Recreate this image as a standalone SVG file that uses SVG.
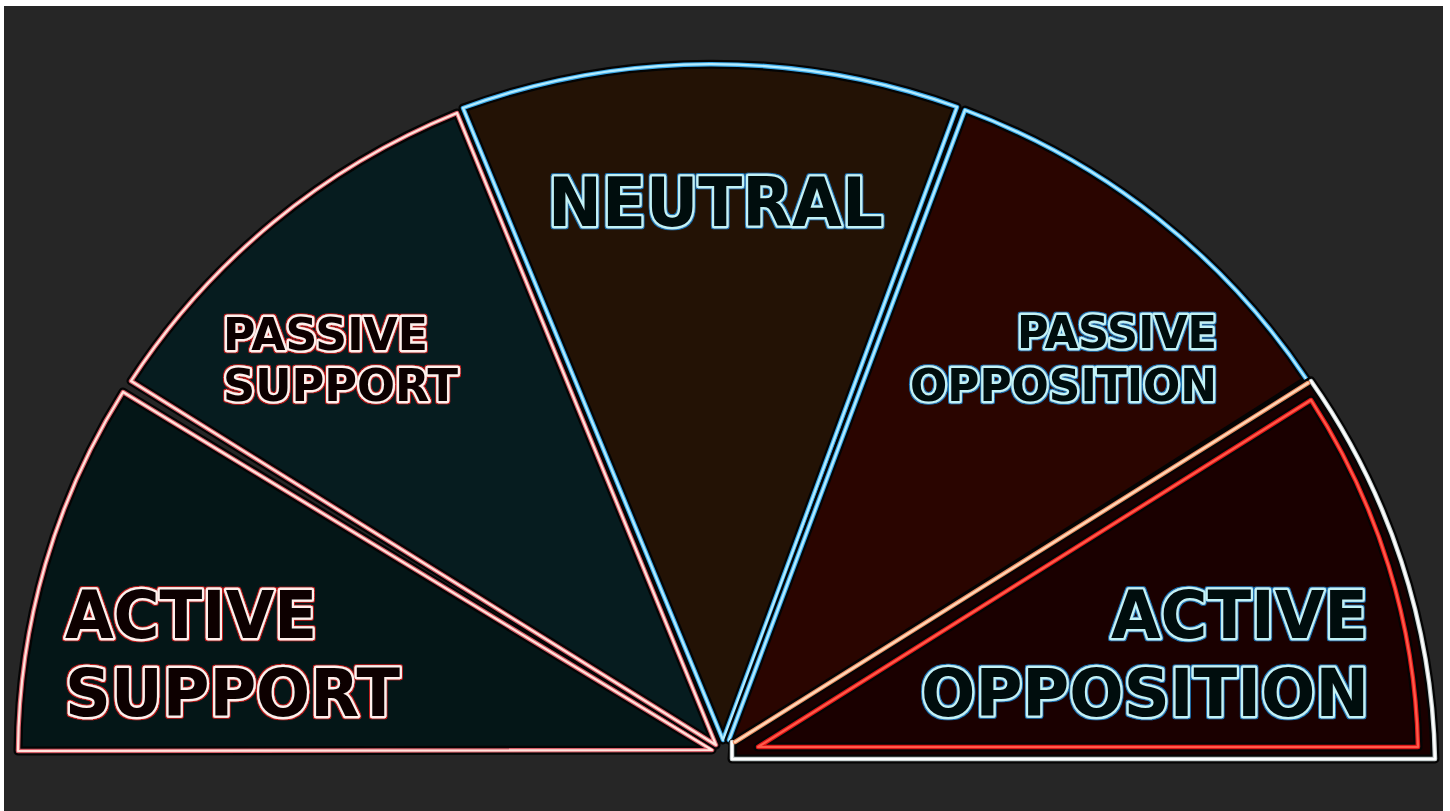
<svg xmlns="http://www.w3.org/2000/svg" width="1450" height="811" viewBox="0 0 1450 811">
<defs>
  <filter id="haloRed" x="-10%" y="-30%" width="120%" height="160%">
    <feMorphology in="SourceAlpha" operator="dilate" radius="1.2" result="d"/>
    <feFlood flood-color="#c01c1c"/>
    <feComposite in2="d" operator="in" result="h"/>
    <feMerge><feMergeNode in="h"/><feMergeNode in="SourceGraphic"/></feMerge>
  </filter>
  <filter id="haloBlue" x="-10%" y="-30%" width="120%" height="160%">
    <feMorphology in="SourceAlpha" operator="dilate" radius="1.2" result="d"/>
    <feFlood flood-color="#1c74b4"/>
    <feComposite in2="d" operator="in" result="h"/>
    <feMerge><feMergeNode in="h"/><feMergeNode in="SourceGraphic"/></feMerge>
  </filter>
</defs>
<style>
  .edge { fill: none; stroke: #040404; stroke-width: 9; stroke-linejoin: round; stroke-linecap: round; }
  .pinkH { fill: none; stroke: #d8606a; stroke-width: 4.5; stroke-linejoin: round; stroke-linecap: round; }
  .pinkC { fill: none; stroke: #ffe4dc; stroke-width: 2.2; stroke-linejoin: round; stroke-linecap: round; }
  .blueH { fill: none; stroke: #3aa8e8; stroke-width: 4.5; stroke-linejoin: round; stroke-linecap: round; }
  .blueC { fill: none; stroke: #b4ecff; stroke-width: 2.2; stroke-linejoin: round; stroke-linecap: round; }
  .peachH { fill: none; stroke: #e88a60; stroke-width: 4.5; stroke-linecap: round; }
  .peachC { fill: none; stroke: #ffd8b8; stroke-width: 2.2; stroke-linecap: round; }
  .whiteH { fill: none; stroke: #c8d0d0; stroke-width: 4.5; stroke-linejoin: round; stroke-linecap: round; }
  .whiteC { fill: none; stroke: #ffffff; stroke-width: 2.2; stroke-linejoin: round; stroke-linecap: round; }
  .redH { fill: none; stroke: #e01818; stroke-width: 4.5; stroke-linejoin: round; stroke-linecap: round; }
  .redC { fill: none; stroke: #ff5a4a; stroke-width: 2.2; stroke-linejoin: round; stroke-linecap: round; }
  text { font-family: "DejaVu Sans", "Liberation Sans", sans-serif; font-weight: bold; paint-order: stroke; stroke-linejoin: round; stroke-width: 4.6; }
  .tRed { fill: #070505; stroke: #fff0ec; filter: url(#haloRed); }
  .tBlue { fill: #03070b; stroke: #c2f2f6; filter: url(#haloBlue); }
</style>
<g id="background">
  <rect x="0" y="0" width="1450" height="811" fill="#ffffff"/>
  <rect x="4" y="6" width="1439" height="805" fill="#262626"/>
</g>
<g id="active-support">
  <path d="M 712 750 L 18 751 A 710 694 0 0 1 123 392 Z" fill="#041617"/>
  <path class="edge" d="M 712 750 L 18 751 A 710 694 0 0 1 123 392 Z"/>
  <path class="pinkH" d="M 712 750 L 18 751 A 710 694 0 0 1 123 392 Z"/>
  <path class="pinkC" d="M 712 750 L 18 751 A 710 694 0 0 1 123 392 Z"/>
  <text class="tRed" x="65" y="638" font-size="66" textLength="252" lengthAdjust="spacingAndGlyphs">ACTIVE</text>
  <text class="tRed" x="65" y="716" font-size="66" textLength="335" lengthAdjust="spacingAndGlyphs">SUPPORT</text>
</g>
<g id="passive-support">
  <path d="M 716 745 L 131 381 A 710 694 0 0 1 457 113 Z" fill="#061c1f"/>
  <path class="edge" d="M 716 745 L 131 381 A 710 694 0 0 1 457 113 Z"/>
  <path class="pinkH" d="M 716 745 L 131 381 A 710 694 0 0 1 457 113 Z"/>
  <path class="pinkC" d="M 716 745 L 131 381 A 710 694 0 0 1 457 113 Z"/>
  <text class="tRed" x="223" y="350" font-size="45" textLength="205" lengthAdjust="spacingAndGlyphs">PASSIVE</text>
  <text class="tRed" x="223" y="401" font-size="45" textLength="235" lengthAdjust="spacingAndGlyphs">SUPPORT</text>
</g>
<g id="neutral">
  <path d="M 723 740 L 463 108 A 710 694 0 0 1 957 107 Z" fill="#231205"/>
  <path class="edge" d="M 723 740 L 463 108 A 710 694 0 0 1 957 107 Z"/>
  <path class="blueH" d="M 723 740 L 463 108 A 710 694 0 0 1 957 107 Z"/>
  <path class="blueC" d="M 723 740 L 463 108 A 710 694 0 0 1 957 107 Z"/>
  <text class="tBlue" x="548" y="226" font-size="67" textLength="335" lengthAdjust="spacingAndGlyphs">NEUTRAL</text>
</g>
<g id="passive-opposition">
  <path d="M 729 740 L 965 110 A 710 694 0 0 1 1307 380 L 735 743 Z" fill="#2a0500"/>
  <path class="edge" d="M 729 740 L 965 110 A 710 694 0 0 1 1307 380 L 735 743 Z"/>
  <path class="blueH" d="M 735 743 L 729 740 L 965 110 A 710 694 0 0 1 1307 380"/>
  <path class="blueC" d="M 735 743 L 729 740 L 965 110 A 710 694 0 0 1 1307 380"/>
  <text class="tBlue" x="1217" y="348" font-size="45" text-anchor="end" textLength="200" lengthAdjust="spacingAndGlyphs">PASSIVE</text>
  <text class="tBlue" x="1217" y="401" font-size="45" text-anchor="end" textLength="307" lengthAdjust="spacingAndGlyphs">OPPOSITION</text>
</g>
<g id="active-opposition">
  <path d="M 733 743 L 1311 381 A 710 694 0 0 1 1435 759 L 732 759 Z" fill="#1a0000"/>
  <path class="edge" d="M 733 743 L 1311 381 A 710 694 0 0 1 1435 759 L 732 759 Z"/>
  <path class="whiteH" d="M 1311 381 A 710 694 0 0 1 1435 759 L 732 759 L 732 742"/>
  <path class="whiteC" d="M 1311 381 A 710 694 0 0 1 1435 759 L 732 759 L 732 742"/>
  <path class="peachH" d="M 735 742 L 1308 383"/>
  <path class="peachC" d="M 735 742 L 1308 383"/>
  <path class="edge" d="M 758 747 L 1311 400 A 693 677 0 0 1 1418 747 Z"/>
  <path class="redH" d="M 758 747 L 1311 400 A 693 677 0 0 1 1418 747 Z"/>
  <path class="redC" d="M 758 747 L 1311 400 A 693 677 0 0 1 1418 747 Z"/>
  <text class="tBlue" x="1368" y="638" font-size="66" text-anchor="end" textLength="257" lengthAdjust="spacingAndGlyphs">ACTIVE</text>
  <text class="tBlue" x="1369" y="716" font-size="66" text-anchor="end" textLength="448" lengthAdjust="spacingAndGlyphs">OPPOSITION</text>
</g>
<g id="connectors"/>
</svg>
